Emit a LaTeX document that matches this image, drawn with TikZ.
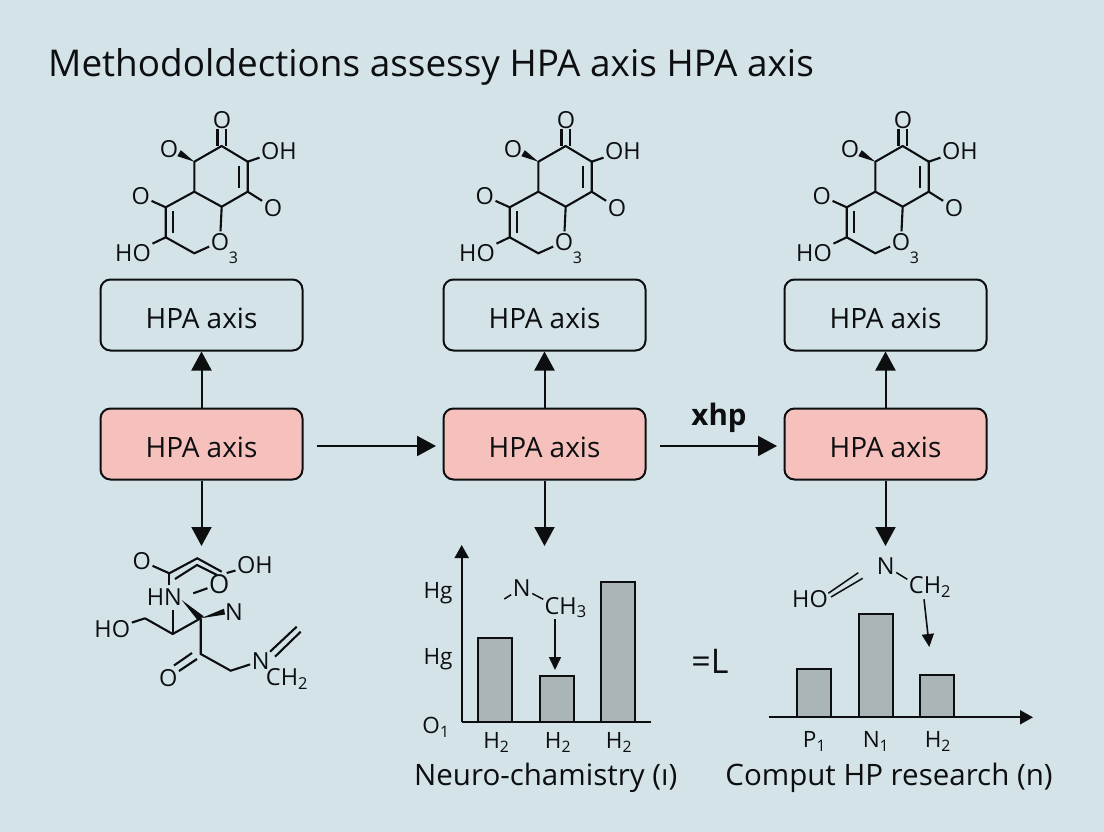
\documentclass[tikz,border=0pt]{standalone}
\usepackage{fontspec}
\setmainfont{Open Sans}
\usepackage{tikz}
\usetikzlibrary{arrows.meta, positioning, calc}
\definecolor{panelbg}{RGB}{211,227,232}
\definecolor{softpink}{RGB}{246,192,188}
\definecolor{bargray}{RGB}{169,181,182}
\definecolor{inkline}{RGB}{12,14,16}
\tikzset{
  axisbox/.style={draw=inkline, line width=2pt, rounded corners=10pt, minimum width=202pt, minimum height=71pt, font=\fontsize{28}{28}\selectfont, text=inkline, text height=27pt, text depth=0pt},
  pinkbox/.style={axisbox, fill=softpink},
  bigarrow/.style={draw=inkline, line width=2pt, -{Triangle[length=19pt,width=20pt]}},
  thinarrow/.style={draw=inkline, line width=1.6pt, -{Triangle[length=13pt,width=12pt]}},
  bond/.style={draw=inkline, line width=2.1pt},
  chem/.style={inner sep=1.5pt, font=\fontsize{23.5}{23.5}\selectfont, text=inkline},
  bar/.style={draw=inkline, line width=2pt, fill=bargray},
  ticklabel/.style={inner sep=1pt, font=\fontsize{22.5}{22.5}\selectfont, text=inkline},
  caption/.style={inner sep=0pt, font=\fontsize{29.5}{29.5}\selectfont, text=inkline}
}
\begin{document}
\begin{tikzpicture}[x=1pt, y=-1pt]
  \useasboundingbox (0,0) rectangle (1104,832);
  \fill[panelbg] (0,0) rectangle (1104,832);
  \node[anchor=west, inner sep=0pt, font=\fontsize{36.9}{36.9}\selectfont, text=inkline] (title) at (48,67) {Methodoldections assessy HPA axis HPA axis};

  % three columns of boxes with their arrows
  \foreach \col/\cx in {a/201.5,b/544.5,c/885.5} {
    \node[axisbox] (\col top) at (\cx,315) {HPA axis};
    \node[pinkbox] (\col mid) at (\cx,444) {HPA axis};
    \coordinate (\col end) at (\cx,546);
    \draw[bigarrow] (\col mid) -- (\col top);
    \draw[bigarrow] (\col mid) -- (\col end);
  }
  \coordinate (astart) at (317,446);
  \coordinate (aright) at (436,446);
  \coordinate (bstart) at (660,446);
  \coordinate (bright) at (777,446);
  \draw[bigarrow] (astart) -- (aright);
  \draw[bigarrow] (bstart) -- (bright);
  \node[inner sep=0pt, font=\bfseries\fontsize{29.5}{29.5}\selectfont, text=inkline] (xhp) at (719,418) {xhp};

  % ring molecule above each column
  \foreach \col/\dx in {a/0,b/344,c/681} {
    \begin{scope}[xshift=\dx pt]
      \coordinate (\col r1) at (221.7,146);
      \coordinate (\col r2) at (247.7,161.7);
      \coordinate (\col r3) at (247.7,191.7);
      \coordinate (\col r4) at (221.7,206.7);
      \coordinate (\col r5) at (194.3,191.7);
      \coordinate (\col r6) at (194.3,161.7);
      \coordinate (\col s1) at (165.7,207.3);
      \coordinate (\col s2) at (165.7,237.3);
      \coordinate (\col s3) at (194.3,253.3);
      \coordinate (\col i1) at (239.3,166);
      \coordinate (\col i2) at (239.3,188);
      \coordinate (\col i3) at (173,211);
      \coordinate (\col i4) at (173,233);
      \coordinate (\col d1) at (217.5,146);
      \coordinate (\col d2) at (226,146);
      \coordinate (\col d3) at (217.5,129);
      \coordinate (\col d4) at (226,129);
      \node[chem] (\col otop) at (222,120) {O};
      \node[chem] (\col oh) at (279,151) {OH};
      \node[chem] (\col owedge) at (169,149) {O};
      \node[chem] (\col oright) at (273,207.7) {O};
      \node[chem] (\col oleft) at (140.7,196) {O};
      \node[chem] (\col ho) at (133,253) {HO};
      \node[chem] (\col oring) at (220,241.7) {O};
      \node[chem, font=\fontsize{16}{16}\selectfont] (\col sub) at (233.5,258) {3};
      \draw[bond, line join=round] (\col r6) -- (\col r1) -- (\col r2) -- (\col r3) -- (\col r4) -- (\col r5) -- cycle;
      \draw[bond] (\col i1) -- (\col i2);
      \draw[bond] (\col r5) -- (\col s1) -- (\col s2) -- (\col s3) -- (\col oring) -- (\col r4);
      \draw[bond] (\col i3) -- (\col i4);
      \draw[bond] (\col d1) -- (\col d3);
      \draw[bond] (\col d2) -- (\col d4);
      \draw[bond] (\col r2) -- (\col oh);
      \draw[bond] (\col r3) -- (\col oright);
      \draw[bond] (\col s1) -- (\col oleft);
      \draw[bond] (\col s2) -- (\col ho);
      \fill[inkline] (\col r6) -- ++(-17,-5.5) -- ++(3.5,-6) -- cycle;
    \end{scope}
  }

  % molecule under the left column
  \node[chem] (lo) at (141.7,561) {O};
  \node[chem] (loh) at (255,565) {OH};
  \node[chem, font=\fontsize{26}{26}\selectfont] (lo2) at (219.3,584) {O};
  \node[chem] (lhn) at (164.3,597) {HN};
  \node[chem] (ln) at (234,612) {N};
  \node[chem] (lho) at (112.3,629) {HO};
  \node[chem] (lo3) at (168.3,677.7) {O};
  \node[chem] (ln2) at (260.7,661) {N};
  \node[chem] (lch) at (287,679) {CH\textsubscript{2}};
  \coordinate (l1) at (169.3,573.3);
  \coordinate (l2) at (197.3,558.3);
  \coordinate (l3) at (221.7,571.7);
  \coordinate (l4) at (175,579);
  \coordinate (l5) at (197,565);
  \coordinate (l6) at (217,575);
  \coordinate (l7) at (193.3,593.3);
  \coordinate (l8) at (169.3,585);
  \coordinate (l9) at (200.7,618.3);
  \coordinate (l10) at (172.7,634);
  \coordinate (l11) at (172.7,610);
  \coordinate (l12) at (145,618.3);
  \coordinate (l13) at (200.7,654);
  \coordinate (l14) at (230.7,670.7);
  \coordinate (l15) at (181.7,600);
  \coordinate (l16) at (197,659);
  \coordinate (l17) at (179,671);
  \coordinate (l18) at (192,653);
  \coordinate (l19) at (174,665.5);
  \coordinate (l20) at (270,651.7);
  \coordinate (l21) at (296.7,626.7);
  \coordinate (l22) at (275,656.7);
  \coordinate (l23) at (300.7,631.7);
  \coordinate (l24) at (226.7,573);
  \draw[bond] (lo) -- (l1);
  \draw[bond] (l1) -- (l2) -- (l3);
  \draw[bond] (l4) -- (l5) -- (l6);
  \draw[bond] (l1) -- (l8);
  \draw[bond] (l7) -- (lo2);
  \draw[bond] (l24) -- (loh);
  \draw[bond] (l11) -- (l10);
  \draw[bond] (l12) -- (l10) -- (l9);
  \draw[bond] (l12) -- (lho);
  \draw[bond] (l9) -- (l13) -- (l14) -- (ln2);
  \draw[bond] (l16) -- (l17);
  \draw[bond] (l18) -- (l19);
  \draw[bond] (l20) -- (l21);
  \draw[bond] (l22) -- (l23);
  \fill[inkline] (l15) -- ($(l9)+(3,-2)$) -- ($(l9)+(-3,2)$) -- cycle;
  \fill[inkline] (l9) -- (224,608.7) -- (225,614.5) -- cycle;

  % middle bar chart
  \coordinate (morigin) at (461.7,722.3);
  \coordinate (mtop) at (461.7,545);
  \coordinate (mright) at (650.7,722.3);
  \foreach \x/\w/\h/\lab in {478.3/m1/637.7/H\textsubscript{2},540/m2/675.7/H\textsubscript{2},601/m3/581.7/H\textsubscript{2}} {
    \draw[bar] (\x,722.3) rectangle ++(34,{\h-722.3});
    \node[ticklabel] (\w) at ({\x+18},742.5) {\lab};
  }
  \draw[draw=inkline, line width=2pt, -{Triangle[length=13pt,width=14pt]}] (morigin) -- (mtop);
  \draw[draw=inkline, line width=2pt] (morigin) -- (mright);
  \node[ticklabel] (mhg1) at (438,593) {Hg};
  \node[ticklabel] (mhg2) at (438,659) {Hg};
  \node[ticklabel] (mo) at (436,727) {O\textsubscript{1}};
  \node[chem] (mn) at (521.7,588) {N};
  \node[chem] (mch) at (565.7,607.7) {CH\textsubscript{3}};
  \coordinate (mstub) at (504.3,599);
  \coordinate (mchbond) at (543.3,599.3);
  \coordinate (mstart) at (555,619);
  \coordinate (mend) at (555,670);
  \draw[bond, line width=1.5pt] (mstub) -- (mn);
  \draw[bond, line width=1.5pt] (mn) -- (mchbond);
  \draw[thinarrow] (mstart) -- (mend);
  \node[caption] (mcap) at (545.7,778) {Neuro-chamistry (ı)};
  \node[inner sep=0pt, font=\fontsize{34}{34}\selectfont, text=inkline] (eql) at (710,661) {=L};

  % right bar chart
  \foreach \x/\w/\h/\lab in {797/r1/669.3/P\textsubscript{1},858.5/r2/613.7/N\textsubscript{1},920.3/r3/675.3/H\textsubscript{2}} {
    \draw[bar] (\x,717.3) rectangle ++(34,{\h-717.3});
    \node[ticklabel] (\w) at ({\x+17.5},741.5) {\lab};
  }
  \coordinate (rstart) at (769,717.3);
  \coordinate (rend) at (1033,717.3);
  \draw[draw=inkline, line width=2pt, -{Triangle[length=13pt,width=14pt]}] (rstart) -- (rend);
  \node[chem] (rn) at (885.7,566) {N};
  \node[chem] (rch) at (930,587) {CH\textsubscript{2}};
  \node[chem] (rho) at (810,599.3) {HO};
  \coordinate (rbond) at (907.3,579.3);
  \coordinate (rd1) at (828.3,593.3);
  \coordinate (rd2) at (858.3,572.7);
  \coordinate (rd3) at (831,597);
  \coordinate (rd4) at (862.7,578.3);
  \coordinate (rarrow) at (924,599.3);
  \coordinate (rtip) at (929.3,647);
  \draw[bond, line width=1.5pt] (rn) -- (rbond);
  \draw[bond, line width=1.5pt] (rd1) -- (rd2);
  \draw[bond, line width=1.5pt] (rd3) -- (rd4);
  \draw[thinarrow] (rarrow) -- (rtip);
  \node[caption] (rcap) at (889,778) {Comput HP research (n)};
\end{tikzpicture}
\end{document}
